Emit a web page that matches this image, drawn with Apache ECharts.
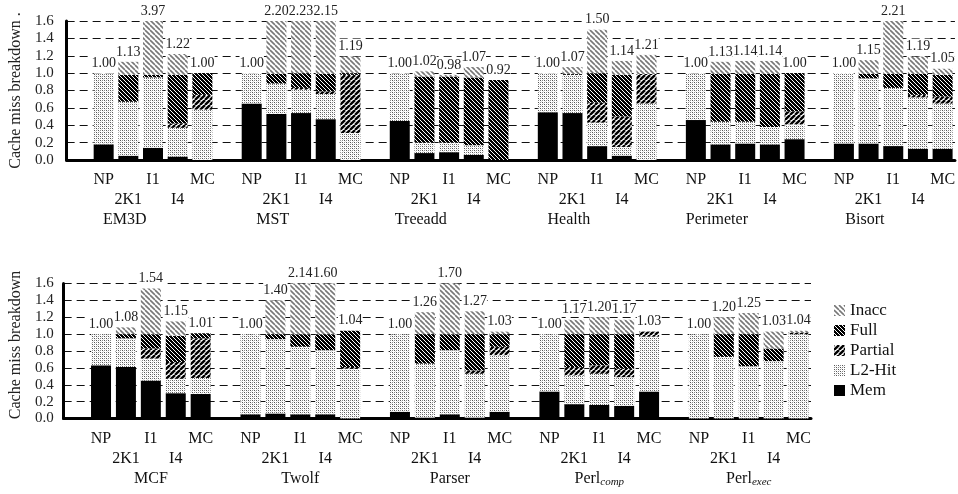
<!DOCTYPE html>
<html><head><meta charset="utf-8">
<script src="https://cdn.jsdelivr.net/npm/echarts@6/dist/echarts.min.js"></script>
<style>html,body{margin:0;padding:0;background:#fff}#c{width:958px;height:494px}</style>
</head><body><div id="c"></div>
<script>
// ---------- data ----------
const configs = ['NP', '2K1', 'I1', 'I4', 'MC'];

const topGroups = ['EM3D', 'MST', 'Treeadd', 'Health', 'Perimeter', 'Bisort'];
// values per group in order NP, 2K1, I1, I4, MC
const topMem = [
  0.18, 0.05, 0.14, 0.04, 0.00,
  0.65, 0.53, 0.54, 0.47, 0.00,
  0.45, 0.08, 0.09, 0.06, 0.00,
  0.55, 0.54, 0.16, 0.05, 0.00,
  0.46, 0.18, 0.19, 0.18, 0.24,
  0.19, 0.19, 0.16, 0.13, 0.13
];
const topL2 = [
  0.82, 0.62, 0.81, 0.33, 0.58,
  0.35, 0.35, 0.27, 0.29, 0.31,
  0.55, 0.12, 0.11, 0.11, 0.00,
  0.45, 0.44, 0.27, 0.10, 0.65,
  0.54, 0.26, 0.25, 0.20, 0.17,
  0.81, 0.75, 0.67, 0.59, 0.52
];
const topPartial = [
  0.00, 0.00, 0.00, 0.05, 0.17,
  0.00, 0.00, 0.02, 0.03, 0.67,
  0.00, 0.00, 0.00, 0.00, 0.00,
  0.00, 0.00, 0.23, 0.35, 0.34,
  0.00, 0.00, 0.00, 0.00, 0.15,
  0.00, 0.00, 0.00, 0.03, 0.08
];
const topFull = [
  0.00, 0.31, 0.03, 0.56, 0.25,
  0.00, 0.11, 0.17, 0.20, 0.02,
  0.00, 0.76, 0.76, 0.78, 0.92,
  0.00, 0.01, 0.34, 0.48, 0.00,
  0.00, 0.55, 0.55, 0.61, 0.44,
  0.00, 0.05, 0.16, 0.24, 0.25
];
const topInacc = [
  0.00, 0.15, 2.99, 0.24, 0.00,
  0.00, 1.21, 1.23, 1.16, 0.19,
  0.00, 0.06, 0.02, 0.12, 0.00,
  0.00, 0.08, 0.50, 0.16, 0.22,
  0.00, 0.14, 0.15, 0.15, 0.00,
  0.00, 0.16, 1.22, 0.20, 0.07
];
const topTotals = [
  1.00, 1.13, 3.97, 1.22, 1.00,
  1.00, 2.20, 2.23, 2.15, 1.19,
  1.00, 1.02, 0.98, 1.07, 0.92,
  1.00, 1.07, 1.50, 1.14, 1.21,
  1.00, 1.13, 1.14, 1.14, 1.00,
  1.00, 1.15, 2.21, 1.19, 1.05
];

const botGroups = ['MCF', 'Twolf', 'Parser', 'Perl_comp', 'Perl_exec'];
const botMem = [
  0.63, 0.61, 0.45, 0.30, 0.29,
  0.05, 0.06, 0.05, 0.05, 0.00,
  0.08, 0.01, 0.05, 0.01, 0.08,
  0.32, 0.17, 0.16, 0.15, 0.32,
  0.00, 0.00, 0.00, 0.00, 0.00
];
const botL2 = [
  0.37, 0.34, 0.26, 0.17, 0.19,
  0.95, 0.88, 0.80, 0.76, 0.59,
  0.92, 0.64, 0.76, 0.52, 0.67,
  0.68, 0.34, 0.37, 0.34, 0.65,
  1.00, 0.73, 0.62, 0.68, 1.00
];
const botPartial = [
  0.00, 0.00, 0.12, 0.20, 0.47,
  0.00, 0.00, 0.00, 0.00, 0.02,
  0.00, 0.00, 0.00, 0.04, 0.10,
  0.00, 0.10, 0.10, 0.10, 0.06,
  0.00, 0.00, 0.00, 0.00, 0.02
];
const botFull = [
  0.00, 0.05, 0.17, 0.31, 0.06,
  0.00, 0.06, 0.15, 0.19, 0.43,
  0.00, 0.35, 0.19, 0.43, 0.15,
  0.00, 0.39, 0.37, 0.41, 0.00,
  0.00, 0.27, 0.38, 0.15, 0.00
];
const botInacc = [
  0.00, 0.08, 0.54, 0.17, 0.00,
  0.00, 0.40, 1.14, 0.60, 0.00,
  0.00, 0.26, 0.70, 0.27, 0.03,
  0.00, 0.17, 0.20, 0.17, 0.00,
  0.00, 0.20, 0.25, 0.20, 0.02
];
const botTotals = [
  1.00, 1.08, 1.54, 1.15, 1.01,
  1.00, 1.40, 2.14, 1.60, 1.04,
  1.00, 1.26, 1.70, 1.27, 1.03,
  1.00, 1.17, 1.20, 1.17, 1.03,
  1.00, 1.20, 1.25, 1.03, 1.04
];

const Y_MAX = 1.6, Y_STEP = 0.2;
const FONT = '"Liberation Serif", "DejaVu Serif", serif';

// ---------- helpers ----------
function slots(groups) {
  const out = [];
  groups.forEach(() => { out.push(''); configs.forEach(c => out.push(c)); });
  return out;
}
function spread(vals) {
  const out = [];
  for (let g = 0; g < vals.length / 5; g++) {
    out.push('-');
    for (let k = 0; k < 5; k++) out.push(vals[g * 5 + k]);
  }
  return out;
}
function tile(size, bg, draw) {
  const c = document.createElement('canvas');
  c.width = c.height = size;
  const x = c.getContext('2d');
  x.fillStyle = bg; x.fillRect(0, 0, size, size);
  draw(x, size);
  return { image: c, repeat: 'repeat' };
}
function diag(x, p, dir, color, w) {
  x.strokeStyle = color; x.lineWidth = w;
  for (let k = -1; k <= 1; k++) {
    x.beginPath();
    if (dir === 'b') { x.moveTo(k * p, 0); x.lineTo(k * p + p, p); }
    else { x.moveTo(k * p, p); x.lineTo(k * p + p, 0); }
    x.stroke();
  }
}
const patInacc = tile(5, '#fff', (x, p) => diag(x, p, 'b', '#777', 1.6));
const patFull = tile(4, '#000', (x, p) => diag(x, p, 'b', '#fff', 1.0));
const patPartial = tile(5, '#fff', (x, p) => diag(x, p, 'f', '#000', 2.4));
const patL2 = tile(4, '#fff', (x) => {
  x.fillStyle = '#555'; x.fillRect(0, 0, 1, 1); x.fillRect(2, 2, 1, 1);
  x.fillStyle = '#888'; x.fillRect(2, 0, 1, 1); x.fillRect(0, 2, 1, 1);
  x.fillStyle = '#ddd'; x.fillRect(1, 1, 1, 1); x.fillRect(3, 3, 1, 1);
});

const segNames = ['Mem', 'L2-Hit', 'Partial', 'Full', 'Inacc'];
const segColors = ['#000', patL2, patPartial, patFull, patInacc];

function slotLabel(v, i) {
  const k = i % 6;
  if (k === 0) return '';
  return (k === 2 || k === 4) ? '\n' + v : v;
}
function groupLabel(v) {
  const m = v.split('_');
  return m.length > 1 ? '{n|' + m[0] + '}{s|' + m[1] + '}' : v;
}
const rich = {
  n: { fontSize: 16, fontFamily: FONT, color: '#111', lineHeight: 18 },
  s: { fontSize: 11, fontFamily: FONT, fontStyle: 'italic', color: '#111', verticalAlign: 'bottom', lineHeight: 8 }
};

function buildSeries(ci, data, totals) {
  const s = data.map((vals, i) => ({
    name: segNames[i], type: 'bar', xAxisIndex: ci * 2, yAxisIndex: ci,
    stack: 'st' + ci, barWidth: 20, barGap: '-100%', animation: false, silent: true,
    data: spread(vals), itemStyle: { color: segColors[i] }
  }));
  s.push({
    name: 'total' + ci, type: 'bar', xAxisIndex: ci * 2, yAxisIndex: ci,
    barWidth: 20, barGap: '-100%', animation: false, silent: true, z: 5,
    data: spread(totals.map(t => Math.min(t, Y_MAX))),
    itemStyle: { color: 'rgba(0,0,0,0)' },
    label: {
      show: true, position: 'top', distance: 3,
      fontSize: 14, fontFamily: FONT, color: '#222',
      backgroundColor: '#fff', padding: [1, 0, 0, 0],
      formatter: p => {
        const g = Math.floor(p.dataIndex / 6), k = p.dataIndex % 6 - 1;
        return totals[g * 5 + k].toFixed(2);
      }
    }
  });
  return s;
}

function yAxis(gi, name, margin, gap, pad) {
  return {
    gridIndex: gi, type: 'value', min: 0, max: Y_MAX, interval: Y_STEP,
    axisLine: { show: true, lineStyle: { color: '#000', width: 3 } },
    axisTick: { show: false },
    splitLine: { lineStyle: { color: '#111', type: [8, 5], width: 1 } },
    axisLabel: { formatter: v => v.toFixed(1), fontSize: 15, fontFamily: FONT, color: '#222', margin: margin },
    name: name, nameLocation: 'middle', nameGap: gap,
    nameTextStyle: { fontSize: 16, fontFamily: FONT, color: '#222', padding: pad }
  };
}
function xAxes(gi, groups, groupPad) {
  return [{
    gridIndex: gi, type: 'category', data: slots(groups),
    axisLine: { lineStyle: { color: '#000', width: 3 } },
    axisTick: { show: false },
    axisLabel: { interval: 0, formatter: slotLabel, fontSize: 16, lineHeight: 20, margin: 10, color: '#111', fontFamily: FONT }
  }, {
    gridIndex: gi, type: 'category', data: groups, position: 'bottom',
    axisLine: { show: false }, axisTick: { show: false }, splitLine: { show: false },
    axisLabel: { interval: 0, formatter: groupLabel, rich: rich, fontSize: 16, lineHeight: 18, margin: 51,
      color: '#111', fontFamily: FONT, padding: groupPad }
  }];
}

const chart = echarts.init(document.getElementById('c'), null, { renderer: 'canvas' });
chart.setOption({
  animation: false,
  backgroundColor: '#fff',
  grid: [
    { left: 66, top: 21, width: 892, height: 139 },
    { left: 61, top: 283.5, width: 750, height: 135 }
  ],
  legend: {
    orient: 'vertical', left: 829, top: 297, itemWidth: 11, itemHeight: 11, itemGap: 3,
    icon: 'rect', selectedMode: false,
    data: ['Inacc', 'Full', 'Partial', 'L2-Hit', 'Mem'],
    textStyle: { fontSize: 17, fontFamily: FONT, color: '#111', lineHeight: 17 }
  },
  xAxis: [].concat(xAxes(0, topGroups, [0, 32, 0, 0]), xAxes(1, botGroups, [0, 0, 0, 25])),
  yAxis: [
    yAxis(0, 'Cache miss breakdown .', 13, 38, [0, 0, 0, 0]),
    yAxis(1, 'Cache miss breakdown', 10, 33, [0, 0, 0, 12])
  ],
  series: [].concat(
    buildSeries(0, [topMem, topL2, topPartial, topFull, topInacc], topTotals),
    buildSeries(1, [botMem, botL2, botPartial, botFull, botInacc], botTotals)
  )
});
</script></body></html>
